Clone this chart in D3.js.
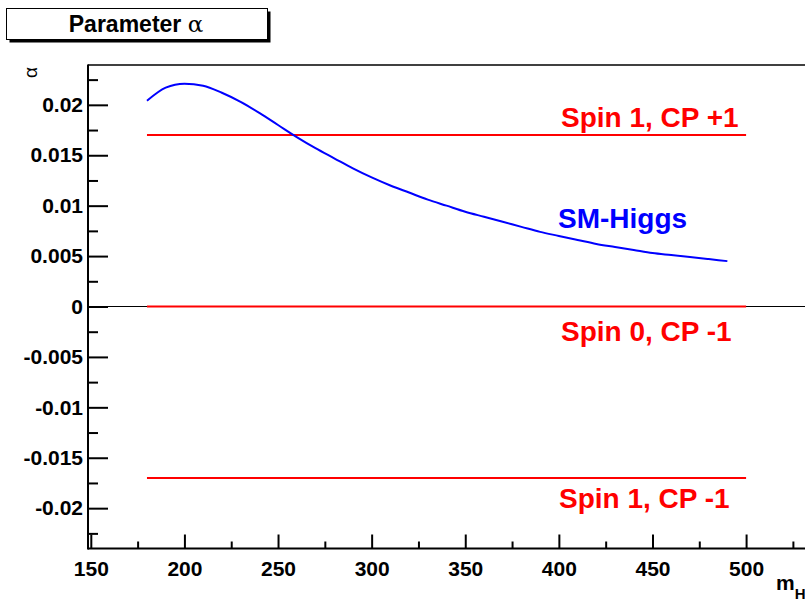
<!DOCTYPE html>
<html>
<head>
<meta charset="utf-8">
<script src="https://cdn.jsdelivr.net/npm/d3@7"></script>
<style>
  html, body { margin: 0; padding: 0; background: #fff; }
  svg { display: block; }
  text { font-family: "Liberation Sans", Arial, sans-serif; }
</style>
</head>
<body>
<script>
// ---- data ----
const massValues = [180,190,200,210,220,230,240,250,260,270,280,290,300,310,320,330,340,350,360,370,380,390,400,410,420,430,440,450,460,470,480,490];
const smHiggsAlpha = [0.0204,0.0217,0.0221,0.0219,0.0212,0.0203,0.0192,0.0180,0.0168,0.0157,0.0147,0.0137,0.0128,0.0120,0.0113,0.0106,0.0100,0.0094,0.0089,0.0084,0.0079,0.0074,0.0070,0.0066,0.0062,0.0059,0.0056,0.0053,0.0051,0.0049,0.0047,0.0045];
const spinLineNames = ["Spin 1, CP +1", "Spin 0, CP -1", "Spin 1, CP -1"];
const spinLineAlpha = [0.017, 0.0, -0.017];
const spinLineRange = [180, 500];
const xMajorTicks = [150,200,250,300,350,400,450,500];
const xMinorTicks = [175,225,275,325,375,425,475,525];
const yMajorTicks = [-0.02,-0.015,-0.01,-0.005,0,0.005,0.01,0.015,0.02];
const yMajorLabels = ["-0.02","-0.015","-0.01","-0.005","0","0.005","0.01","0.015","0.02"];
const yMinorTicks = [-0.0225,-0.0175,-0.0125,-0.0075,-0.0025,0.0025,0.0075,0.0125,0.0175,0.0225];
const titleText = "Parameter ";
const titleSymbol = "α";
const yTitle = "α";
const xTitleMain = "m";
const xTitleSub = "H";
const curveLabel = "SM-Higgs";

// ---- drawing ----
const W = 805, H = 601;
const svg = d3.select("body").append("svg").attr("width", W).attr("height", H);

const x = d3.scaleLinear().domain([148.5, 550]).range([88, 839.7]);
const y = d3.scaleLinear().domain([-0.024, 0.024]).range([548.5, 64.5]);

// frame top line
svg.append("line").attr("x1", 88).attr("x2", W).attr("y1", 65).attr("y2", 65)
  .attr("stroke", "#000").attr("stroke-width", 1.5);

// zero line (black across plot)
svg.append("line").attr("x1", 88).attr("x2", W).attr("y1", y(0)).attr("y2", y(0))
  .attr("stroke", "#000").attr("stroke-width", 1);

// red spin lines
spinLineAlpha.forEach(v => {
  svg.append("line")
    .attr("x1", x(spinLineRange[0])).attr("x2", x(spinLineRange[1]))
    .attr("y1", y(v)).attr("y2", y(v))
    .attr("stroke", "#ff0000").attr("stroke-width", 2);
});

// blue SM curve
const pts = massValues.map((m, i) => [m, smHiggsAlpha[i]]);
svg.append("path").datum(pts)
  .attr("d", d3.line().x(d => x(d[0])).y(d => y(d[1])).curve(d3.curveMonotoneX))
  .attr("fill", "none").attr("stroke", "#0000ff").attr("stroke-width", 2);

// axes
const xAxisG = svg.append("g").attr("transform", `translate(0,548.5)`);
xAxisG.call(d3.axisBottom(x).tickValues(xMajorTicks).tickSize(-14).tickSizeOuter(0).tickPadding(13).tickFormat(d => String(d)));
const xMinorG = svg.append("g").attr("transform", `translate(0,548.5)`);
xMinorG.call(d3.axisBottom(x).tickValues(xMinorTicks).tickSize(-7).tickSizeOuter(0).tickFormat(""));
xMinorG.select(".domain").remove();

const yAxisG = svg.append("g").attr("transform", `translate(88,0)`);
yAxisG.call(d3.axisLeft(y).tickValues(yMajorTicks).tickSize(-20).tickSizeOuter(0).tickPadding(5)
  .tickFormat((d, i) => yMajorLabels[i]));
const yMinorG = svg.append("g").attr("transform", `translate(88,0)`);
yMinorG.call(d3.axisLeft(y).tickValues(yMinorTicks).tickSize(-10).tickSizeOuter(0).tickFormat(""));
yMinorG.select(".domain").remove();

[xAxisG, xMinorG, yAxisG, yMinorG].forEach(g => {
  g.selectAll(".domain").attr("stroke", "#000").attr("stroke-width", 2);
  g.selectAll(".tick line").attr("stroke", "#000").attr("stroke-width", 2);
  g.selectAll("text").attr("font-family", "Liberation Sans, Arial, sans-serif")
    .attr("font-weight", "bold").attr("font-size", 21).attr("fill", "#000");
});
// extend the domain lines
xAxisG.select(".domain").attr("d", `M88,0H${W}`);
yAxisG.select(".domain").attr("d", `M0,64.5V549.5`);

// labels on the lines
const labelPos = [[561, 127], [561, 341], [559, 508]];
spinLineNames.forEach((t, i) => {
  svg.append("text").attr("x", labelPos[i][0]).attr("y", labelPos[i][1])
    .attr("font-weight", "bold").attr("font-size", 28).attr("fill", "#ff0000").text(t);
});
svg.append("text").attr("x", 558).attr("y", 228)
  .attr("font-weight", "bold").attr("font-size", 28).attr("fill", "#0000ff").text(curveLabel);

// axis titles
svg.append("text").attr("transform", "translate(37,67) rotate(-90)")
  .attr("text-anchor", "end").attr("font-family", "DejaVu Serif, serif")
  .attr("font-size", 19).attr("fill", "#000").text(yTitle);
const xt = svg.append("text").attr("x", 776).attr("y", 590)
  .attr("font-weight", "bold").attr("font-size", 21).attr("fill", "#000");
xt.append("tspan").text(xTitleMain);
xt.append("tspan").attr("dy", 9).attr("font-size", 15).text(xTitleSub);

// title box
svg.append("rect").attr("x", 9.5).attr("y", 11.5).attr("width", 261).attr("height", 31).attr("fill", "#000");
svg.append("rect").attr("x", 6.5).attr("y", 8.5).attr("width", 261).attr("height", 31)
  .attr("fill", "#fff").attr("stroke", "#000").attr("stroke-width", 1);
const tt = svg.append("text").attr("x", 136).attr("y", 32).attr("text-anchor", "middle")
  .attr("font-size", 23).attr("fill", "#000");
tt.append("tspan").attr("font-weight", "bold").text(titleText);
tt.append("tspan").attr("font-family", "DejaVu Serif, serif").attr("font-size", 23).text(titleSymbol);
</script>
</body>
</html>
